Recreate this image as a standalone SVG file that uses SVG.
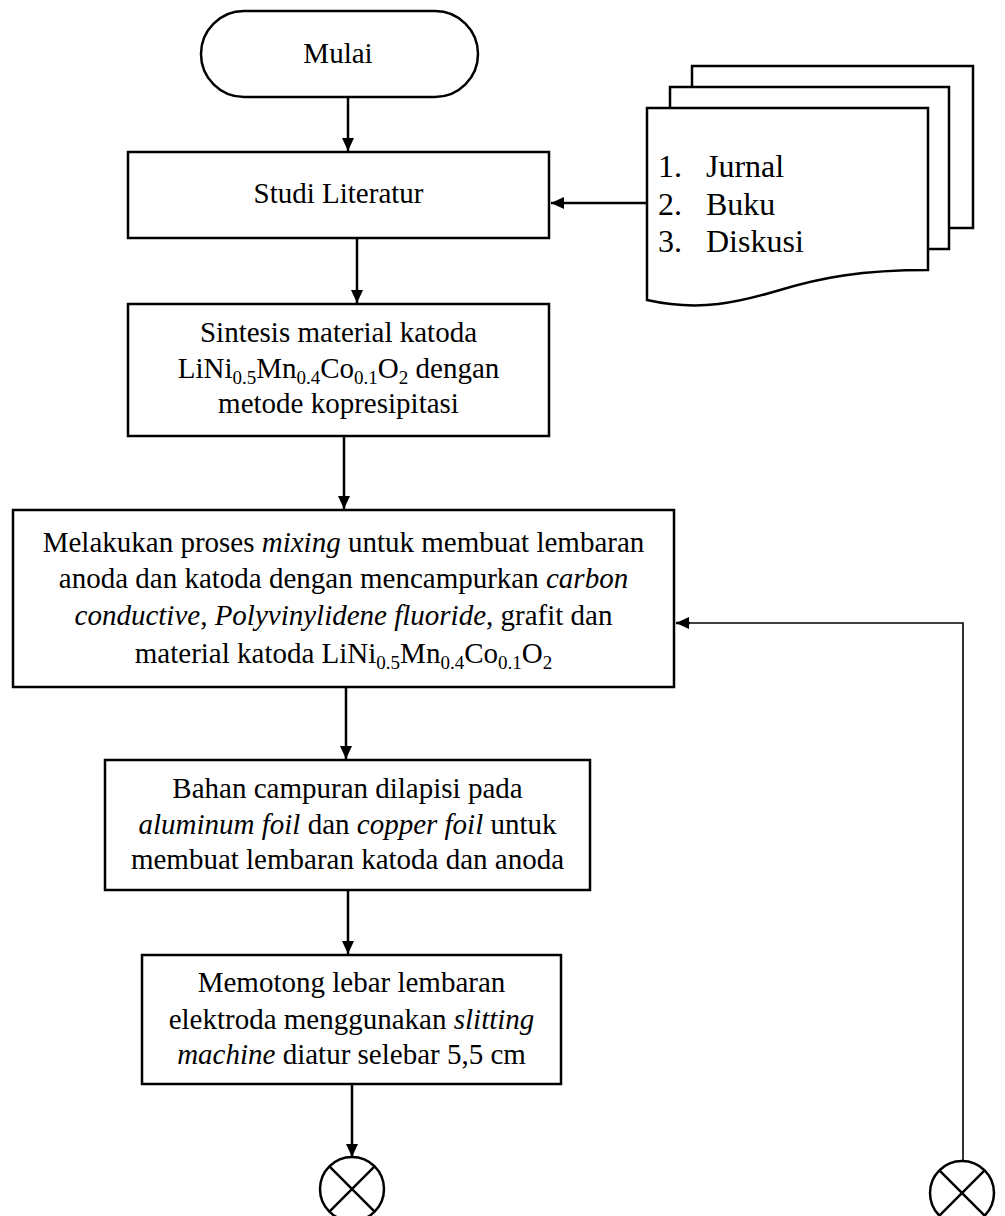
<svg xmlns="http://www.w3.org/2000/svg" width="1005" height="1216" viewBox="0 0 1005 1216">
<style>
.box{fill:#fff;stroke:#000;stroke-width:2.5}
.ln{fill:none;stroke:#000;stroke-width:2.5}
.thin{fill:none;stroke:#000;stroke-width:1.6}
text{font-family:"Liberation Serif","Times New Roman",serif;font-size:29px;fill:#000}
.c{text-anchor:middle}
.doc{font-size:32px}
.s{font-size:19px}
</style>
<defs>
<marker id="ah" markerUnits="userSpaceOnUse" markerWidth="14" markerHeight="12" refX="13" refY="6" orient="auto">
<path d="M0,0 L13,6 L0,12 Z" fill="#000"/>
</marker>
</defs>
<rect width="1005" height="1216" fill="#fff"/>
<g id="connectors">
<line class="ln" x1="348" y1="97" x2="348" y2="151" marker-end="url(#ah)"/>
<line class="ln" x1="647" y1="203" x2="551" y2="203" marker-end="url(#ah)"/>
<line class="ln" x1="357" y1="238" x2="357" y2="303" marker-end="url(#ah)"/>
<line class="ln" x1="344" y1="436" x2="344" y2="509" marker-end="url(#ah)"/>
<line class="ln" x1="346" y1="687" x2="346" y2="759" marker-end="url(#ah)"/>
<line class="ln" x1="348" y1="890" x2="348" y2="954" marker-end="url(#ah)"/>
<line class="ln" x1="352" y1="1084" x2="352" y2="1157" marker-end="url(#ah)"/>
<polyline class="thin" points="963,1161 963,623 690,623"/>
<line class="ln" x1="690" y1="623" x2="676" y2="623" marker-end="url(#ah)"/>
</g>
<g id="mulai">
<rect class="box" x="201" y="11" width="277" height="86" rx="43" ry="43"/>
<text class="c" x="338" y="63">Mulai</text>
</g>
<g id="studi">
<rect class="box" x="128" y="152" width="421" height="86"/>
<text class="c" x="338.5" y="203">Studi Literatur</text>
</g>
<g id="dokumen">
<rect class="box" x="692" y="66" width="281" height="162"/>
<rect class="box" x="670" y="87" width="279" height="162"/>
<path class="box" d="M647,108 H928 V270 C860,270 820,278 780,290 C740,302 700,312 647,300 Z"/>
<text class="doc" x="658" y="177">1.</text>
<text class="doc" x="706" y="177">Jurnal</text>
<text class="doc" x="658" y="215">2.</text>
<text class="doc" x="706" y="215">Buku</text>
<text class="doc" x="658" y="252">3.</text>
<text class="doc" x="706" y="252">Diskusi</text>
</g>
<g id="sintesis">
<rect class="box" x="128" y="304" width="421" height="132"/>
<text class="c" x="338.5" y="342">Sintesis material katoda</text>
<text class="c" x="338.5" y="378">LiNi<tspan class="s" dy="6">0.5</tspan><tspan dy="-6">Mn</tspan><tspan class="s" dy="6">0.4</tspan><tspan dy="-6">Co</tspan><tspan class="s" dy="6">0.1</tspan><tspan dy="-6">O</tspan><tspan class="s" dy="6">2</tspan><tspan dy="-6"> dengan</tspan></text>
<text class="c" x="338.5" y="413">metode kopresipitasi</text>
</g>
<g id="mixing">
<rect class="box" x="13" y="510" width="661" height="177"/>
<text class="c" x="343.5" y="552">Melakukan proses <tspan font-style="italic">mixing</tspan> untuk membuat lembaran</text>
<text class="c" x="343.5" y="588">anoda dan katoda dengan mencampurkan <tspan font-style="italic">carbon</tspan></text>
<text class="c" x="343.5" y="625"><tspan font-style="italic">conductive</tspan>, <tspan font-style="italic">Polyvinylidene fluoride</tspan>, grafit dan</text>
<text class="c" x="343.5" y="663">material katoda LiNi<tspan class="s" dy="6">0.5</tspan><tspan dy="-6">Mn</tspan><tspan class="s" dy="6">0.4</tspan><tspan dy="-6">Co</tspan><tspan class="s" dy="6">0.1</tspan><tspan dy="-6">O</tspan><tspan class="s" dy="6">2</tspan></text>
</g>
<g id="pelapisan">
<rect class="box" x="105" y="760" width="485" height="130"/>
<text class="c" x="347.5" y="798">Bahan campuran dilapisi pada</text>
<text class="c" x="347.5" y="834"><tspan font-style="italic">aluminum foil</tspan> dan <tspan font-style="italic">copper foil</tspan> untuk</text>
<text class="c" x="347.5" y="869">membuat lembaran katoda dan anoda</text>
</g>
<g id="pemotongan">
<rect class="box" x="142" y="955" width="419" height="129"/>
<text class="c" x="351.5" y="992">Memotong lebar lembaran</text>
<text class="c" x="351.5" y="1029">elektroda menggunakan <tspan font-style="italic">slitting</tspan></text>
<text class="c" x="351.5" y="1064"><tspan font-style="italic">machine</tspan> diatur selebar 5,5 cm</text>
</g>
<g id="konektor-a">
<circle class="box" cx="352" cy="1189" r="32"/>
<path class="ln" d="M329.4,1166.4 L374.6,1211.6 M374.6,1166.4 L329.4,1211.6"/>
</g>
<g id="konektor-b">
<circle class="box" cx="962" cy="1193" r="32"/>
<path class="ln" d="M939.4,1170.4 L984.6,1215.6 M984.6,1170.4 L939.4,1215.6"/>
</g>
</svg>
